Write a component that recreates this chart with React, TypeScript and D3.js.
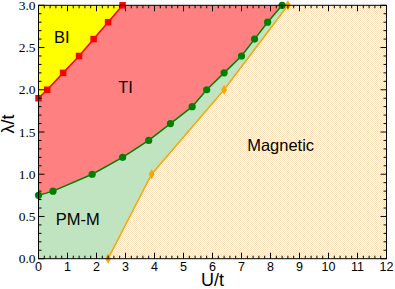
import React from 'react';
import * as d3 from 'd3';

// phase boundaries: [U/t, lambda/t]
const biTiU = [0, 0.3, 0.85, 1.4, 1.9, 2.4, 2.9];
const biTiL = [1.9, 2.0, 2.2, 2.4, 2.6, 2.8, 3.0];

const tiPmU = [0, 0.5, 1.85, 2.9, 3.8, 4.55, 5.3, 5.8, 6.4, 7.0, 7.45, 7.9, 8.4];
const tiPmL = [0.75, 0.8, 1.0, 1.2, 1.4, 1.6, 1.8, 2.0, 2.2, 2.4, 2.6, 2.8, 3.0];

const magU = [2.4, 3.9, 6.4, 8.6];
const magL = [0, 1.0, 2.0, 3.0];

const xTicks = d3.range(0, 13, 1);
const yTicks = [0, 0.5, 1.0, 1.5, 2.0, 2.5, 3.0];

const W = 395;
const H = 289;
const margin = { left: 38.5, right: 8.5, top: 5.3, bottom: 30.3 };

export default function App() {
  const x = d3.scaleLinear().domain([0, 12]).range([margin.left, W - margin.right]);
  const y = d3.scaleLinear().domain([0, 3]).range([H - margin.bottom, margin.top]);

  const zip = (us: number[], ls: number[]) => us.map((u, i) => [u, ls[i]] as [number, number]);
  const red = zip(biTiU, biTiL);
  const green = zip(tiPmU, tiPmL);
  const orange = zip(magU, magL);

  const line = d3.line<[number, number]>().x(d => x(d[0])).y(d => y(d[1]));
  const area = (pts: [number, number][]) => line(pts) + 'Z';

  const biPoly: [number, number][] = [[0, 3], ...red];
  const tiPoly: [number, number][] = [...green, ...red.slice().reverse()];
  const pmPoly: [number, number][] = [[0, 0], ...orange, ...green.slice().reverse()];
  const magPoly: [number, number][] = [...orange, [12, 3], [12, 0]];

  const x0 = x(0), x1 = x(12), y0 = y(0), y1 = y(3);
  const minorX = d3.range(0, 12.001, 0.2);
  const minorY = d3.range(0, 3.001, 0.1);

  const sq = 6.5;
  const dia = d3.symbol().type(d3.symbolDiamond).size(30)();

  return (
    <svg width={W} height={H} style={{ position: 'absolute', left: 0, top: 0 }}>
      <defs>
        <pattern id="hatch" width="2" height="2" patternUnits="userSpaceOnUse">
          <rect width="2" height="2" fill="#ffffff" />
          <rect x="0" y="0" width="1" height="1" fill="#fde3bb" />
          <rect x="1" y="1" width="1" height="1" fill="#fde3bb" />
        </pattern>
      </defs>
      <rect x={0} y={0} width={W} height={H} fill="#fff" />

      <path d={area(magPoly)} fill="url(#hatch)" />
      <path d={area(pmPoly)} fill="#c0e4c0" />
      <path d={area(tiPoly)} fill="#ff8080" />
      <path d={area(biPoly)} fill="#ffff00" />

      <path d={line(orange) ?? ''} fill="none" stroke="#ffa500" strokeWidth={1.5} />
      <path d={line(green) ?? ''} fill="none" stroke="#008000" strokeWidth={1.5} />
      <path d={line(red) ?? ''} fill="none" stroke="#ff0000" strokeWidth={1.5} />

      {orange.map((d, i) => (
        <path key={'o' + i} d={dia ?? ''} transform={`translate(${x(d[0])},${y(d[1])})`} fill="#ffa500" />
      ))}
      {green.map((d, i) => (
        <circle key={'g' + i} cx={x(d[0])} cy={y(d[1])} r={3.6} fill="#008000" />
      ))}
      {red.map((d, i) => (
        <rect key={'r' + i} x={x(d[0]) - sq / 2} y={y(d[1]) - sq / 2} width={sq} height={sq} fill="#ff0000" />
      ))}

      {/* frame and ticks */}
      <rect x={x0} y={y1} width={x1 - x0} height={y0 - y1} fill="none" stroke="#000" strokeWidth={1} />
      <g stroke="#000" strokeWidth={1}>
        {minorX.map((v, i) => {
          const len = Math.abs(v - Math.round(v)) < 1e-6 ? 6 : 3;
          return (
            <g key={'mx' + i}>
              <line x1={x(v)} x2={x(v)} y1={y0} y2={y0 - len} />
              <line x1={x(v)} x2={x(v)} y1={y1} y2={y1 + len} />
            </g>
          );
        })}
        {minorY.map((v, i) => {
          const len = Math.abs(v * 2 - Math.round(v * 2)) < 1e-6 ? 6 : 3;
          return (
            <g key={'my' + i}>
              <line x1={x0} x2={x0 + len} y1={y(v)} y2={y(v)} />
              <line x1={x1} x2={x1 - len} y1={y(v)} y2={y(v)} />
            </g>
          );
        })}
      </g>

      {xTicks.map(t => (
        <text key={'xt' + t} x={x(t)} y={y0 + 12} textAnchor="middle"
          fontFamily="Liberation Sans, Arial, sans-serif" fontSize={12.5} fill="#000">{t}</text>
      ))}
      {yTicks.map(t => (
        <text key={'yt' + t} x={x0 - 3} y={y(t) + 4.5} textAnchor="end"
          fontFamily="Liberation Serif, Times New Roman, serif" fontSize={13.5} fill="#000">{t.toFixed(1)}</text>
      ))}

      <text x={(x0 + x1) / 2} y={286} textAnchor="middle"
        fontFamily="Liberation Sans, Arial, sans-serif" fontSize={18} fill="#000">U/t</text>
      <text transform={`translate(14,124) rotate(-90)`} textAnchor="middle"
        fontFamily="Liberation Sans, Arial, sans-serif" fontSize={18} fill="#000">λ/t</text>

      <g fontFamily="Liberation Sans, Arial, sans-serif" fontSize={16.5} fill="#000" textAnchor="middle">
        <text x={x(0.8)} y={y(2.62) + 6}>BI</text>
        <text x={x(3.0)} y={y(2.03) + 6}>TI</text>
        <text x={x(1.35)} y={y(0.47) + 6}>PM-M</text>
        <text x={x(8.35)} y={y(1.35) + 6}>Magnetic</text>
      </g>
    </svg>
  );
}
